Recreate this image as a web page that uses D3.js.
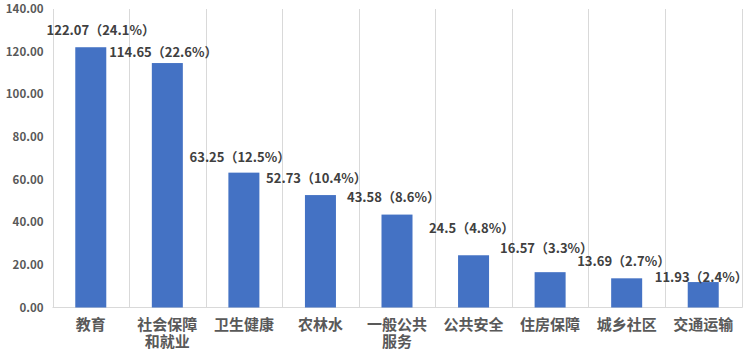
<!DOCTYPE html>
<html>
<head>
<meta charset="utf-8">
<script src="https://cdn.jsdelivr.net/npm/d3@7"></script>
<style>
  html, body { margin: 0; padding: 0; background: #fff; }
  svg { display: block; }
  text { font-family: "Noto Sans CJK SC", "Noto Sans", sans-serif; }
</style>
</head>
<body>
<svg id="chart" width="749" height="359"></svg>
<script>
// ---- data ----
const categories = ["教育", "社会保障\n和就业", "卫生健康", "农林水", "一般公共\n服务", "公共安全", "住房保障", "城乡社区", "交通运输"];
const values = [122.07, 114.65, 63.25, 52.73, 43.58, 24.5, 16.57, 13.69, 11.93];
const shares = ["24.1%", "22.6%", "12.5%", "10.4%", "8.6%", "4.8%", "3.3%", "2.7%", "2.4%"];
const yTicks = [0, 20, 40, 60, 80, 100, 120, 140];

// ---- layout nudges for the manually placed data labels (px) ----
const labelDx = [10, -4, -4, -4, -3.5, -2, -3.5, -3, -2];
const labelDy = [-12, -6, -11, -12, -13, -22, -19, -12, 0];

const svg = d3.select("#chart");
const pLeft = 52.5, pRight = 741.5, pTop = 9, pBottom = 307.5;

const x = d3.scaleBand().domain(categories).range([pLeft, pRight]).padding(0);
const y = d3.scaleLinear().domain([0, 140]).range([pBottom, pTop]);
const barW = x.bandwidth() * 0.405;

// vertical gridlines at category boundaries
const bounds = categories.map(c => x(c)).concat([pRight]);
svg.append("g").selectAll("line").data(bounds).join("line")
  .attr("x1", d => Math.round(d) + 0.5).attr("x2", d => Math.round(d) + 0.5)
  .attr("y1", pTop).attr("y2", pBottom)
  .attr("stroke", "#d9d9d9").attr("stroke-width", 1);

// bottom axis line
svg.append("line")
  .attr("x1", pLeft).attr("x2", pRight + 1)
  .attr("y1", pBottom).attr("y2", pBottom)
  .attr("stroke", "#d9d9d9").attr("stroke-width", 1);

// y tick labels via d3 axis
const yAxis = d3.axisLeft(y).tickValues(yTicks).tickFormat(d3.format(".2f")).tickSize(0).tickPadding(9);
const gy = svg.append("g").attr("transform", `translate(${pLeft},0)`).call(yAxis);
gy.select(".domain").remove();
gy.selectAll("text")
  .attr("fill", "#595959")
  .style("font-size", "11.5px")
  .style("font-weight", "bold")
  .style("font-family", '"Noto Sans CJK SC", sans-serif');

// bars
svg.append("g").selectAll("rect").data(values).join("rect")
  .attr("x", (d, i) => x(categories[i]) + x.bandwidth() / 2 - barW / 2)
  .attr("y", d => y(d))
  .attr("width", barW)
  .attr("height", d => pBottom - y(d))
  .attr("fill", "#4472C4");

// data labels
svg.append("g").selectAll("text").data(values).join("text")
  .attr("x", (d, i) => x(categories[i]) + x.bandwidth() / 2 + labelDx[i])
  .attr("y", (d, i) => y(d) + labelDy[i])
  .attr("text-anchor", "middle")
  .attr("fill", "#404040")
  .style("font-size", "13px")
  .style("font-weight", "bold")
  .text((d, i) => `${d}（${shares[i]}）`);

// category labels
const cat = svg.append("g").selectAll("text").data(categories).join("text")
  .attr("x", d => x(d) + x.bandwidth() / 2)
  .attr("y", 330)
  .attr("text-anchor", "middle")
  .attr("fill", "#595959")
  .style("font-size", "15px")
  .style("font-weight", "bold");
cat.each(function(d) {
  const lines = d.split("\n");
  const t = d3.select(this);
  lines.forEach((ln, k) => {
    t.append("tspan")
      .attr("x", t.attr("x"))
      .attr("dy", k === 0 ? 0 : 17)
      .text(ln);
  });
});
</script>
</body>
</html>
